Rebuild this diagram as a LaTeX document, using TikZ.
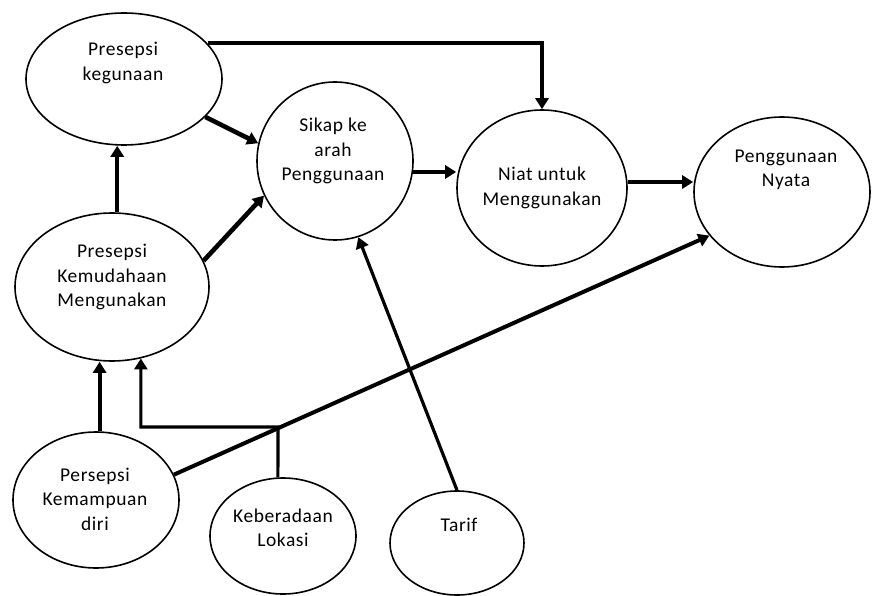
\documentclass[tikz,border=0pt]{standalone}
\usepackage{fontspec}
\setmainfont{Carlito}[LetterSpace=3]
\usetikzlibrary{arrows.meta,shapes.geometric,calc}
\begin{document}
\begin{tikzpicture}[x=1pt,y=-1pt,
  oval/.style={ellipse, draw, line width=1.6pt, inner sep=0pt},
  txt/.style={align=center, font=\fontsize{19.5}{24.5}\selectfont, inner sep=0pt},
  tip/.style={-{Triangle[length=11pt,width=13pt]}},
  arrA/.style={tip, line width=4.6pt},
  arrB/.style={tip, line width=4pt},
  arrC/.style={tip, line width=3.2pt}]
\useasboundingbox (0,0) rectangle (872,596);
% shapes
\node[oval, minimum width=196pt, minimum height=132pt] (keg) at (124,79) {};
\node[oval, minimum width=156pt, minimum height=158pt] (sikap) at (335,161) {};
\node[oval, minimum width=170pt, minimum height=156pt] (niat) at (542,188) {};
\node[oval, minimum width=176pt, minimum height=150pt] (nyata) at (782,192) {};
\node[oval, minimum width=194pt, minimum height=148pt] (kem) at (112,287) {};
\node[oval, minimum width=166pt, minimum height=136pt] (kmp) at (96,500) {};
\node[oval, minimum width=146pt, minimum height=116pt] (lok) at (283,536) {};
\node[oval, minimum width=134pt, minimum height=104pt] (tarif) at (457,543) {};
% texts
\node[txt] (kegT) at (123,63) {Presepsi\\kegunaan};
\node[txt] (sikapT) at (333,151) {Sikap ke\\arah\\Penggunaan};
\node[txt] (niatT) at (542,188) {Niat untuk\\Menggunakan};
\node[txt] (nyataT) at (786,170) {Penggunaan\\Nyata};
\node[txt] (kemT) at (112,277) {Presepsi\\Kemudahaan\\Mengunakan};
\node[txt] (kmpT) at (95,499) {Persepsi\\Kemampuan\\diri};
\node[txt] (lokT) at (283,528) {Keberadaan\\Lokasi};
\node[txt] (tarifT) at (459,525) {Tarif};
% connectors
\coordinate (bend) at (278,427);
\draw[arrB] (keg.23) -| (niat.north);
\draw[arrA] (keg.-25) -- (sikap.167);
\draw[arrB] (kem.86) -- (kem.86 |- keg.south);
\draw[arrA] (kem.16) -- (sikap.206);
\draw[arrA] (sikap.-8) -- (sikap.-8 -| niat.west);
\draw[arrA] (niat.4) -- (niat.4 -| nyata.west);
\draw[arrB] (kmp.18) -- (nyata.211);
\draw[arrB] (kmp.87) -- (kmp.87 |- kem.south);
\draw[arrC] (lok.95) -- (bend) -| (kem.-68);
\draw[arrC] (tarif.north) -- (sikap.-73);
\end{tikzpicture}
\end{document}
